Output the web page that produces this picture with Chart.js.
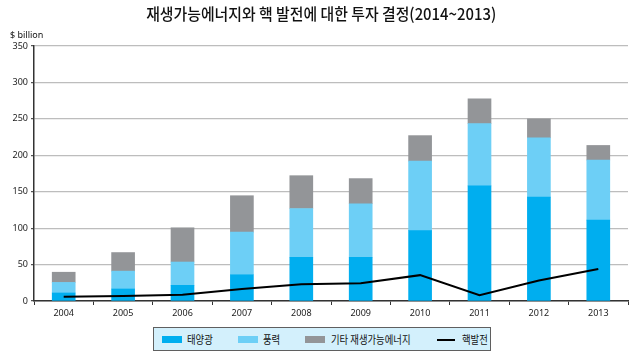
<!DOCTYPE html>
<html><head><meta charset="utf-8">
<script src="https://cdn.jsdelivr.net/npm/chart.js@4.4.1/dist/chart.umd.min.js"></script>
<style>
body{margin:0;width:640px;height:360px;overflow:hidden;background:#fff;font-family:"Noto Sans CJK KR",sans-serif;}
#wrap{position:relative;width:640px;height:360px;}
canvas{position:absolute;left:0;top:0;}
.t{position:absolute;white-space:nowrap;color:#111;}
#title{left:0;top:3px;width:642px;text-align:center;font-size:16px;line-height:20px;font-weight:500;}
#title span{display:inline-block;transform:scaleX(0.93);transform-origin:center;}
#unit{left:10px;top:28px;font-size:9px;font-family:"Noto Sans",sans-serif;}
#legend{position:absolute;left:153px;top:327px;width:336px;height:22px;background:#d3f0fc;border:1px solid #5f5f5f;}
.sw{position:absolute;top:8px;width:20px;height:7px;}
.ln{position:absolute;top:11px;width:18px;height:2px;background:#000;}
.lt{position:absolute;top:3px;font-size:11px;line-height:16px;transform:scaleX(0.85);transform-origin:left center;white-space:nowrap;color:#111;}
</style></head><body>
<div id="wrap">
<canvas id="c" width="640" height="360"></canvas>
<div class="t" id="title"><span>재생가능에너지와 핵 발전에 대한 투자 결정(2014~2013)</span></div>
<div class="t" id="unit">$ billion</div>
<div id="legend"></div>
</div>
<script>
const years = ['2004','2005','2006','2007','2008','2009','2010','2011','2012','2013'];
const solar = [11, 16.5, 21.5, 36, 60, 60, 96.5, 158, 142.5, 111];
const wind = [14.5, 24.5, 32, 58.5, 67, 73.5, 95.5, 85.5, 81.5, 82.5];
const otherRenew = [14, 25.5, 47, 50, 45, 34.5, 35, 34, 26, 20];
const nuclear = [6, 7, 8.5, 16.5, 23, 24.5, 35.5, 8, 28, 44];
const seriesNames = ['태양광', '풍력', '기타 재생가능에너지', '핵발전'];
const colors = ['#00aeef', '#6dcff6', '#939598', '#000000'];

const barCommon = {type:'bar', stack:'r', order:1, barThickness:23, borderWidth:0};
new Chart(document.getElementById('c'), {
  data: {
    labels: years,
    datasets: [
      Object.assign({label:seriesNames[0], data:solar, backgroundColor:colors[0]}, barCommon),
      Object.assign({label:seriesNames[1], data:wind, backgroundColor:colors[1]}, barCommon),
      Object.assign({label:seriesNames[2], data:otherRenew, backgroundColor:colors[2]}, barCommon),
      {type:'line', label:seriesNames[3], data:nuclear, stack:'n', order:0, borderColor:colors[3], borderWidth:2, pointRadius:0, tension:0, fill:false}
    ]
  },
  options: {
    responsive:false, animation:false,
    layout:{padding:{left:0, top:46, right:12, bottom:0}},
    plugins:{legend:{display:false}, tooltip:{enabled:false}, title:{display:false}},
    scales:{
      x:{stacked:true,
        ticks:{color:'#222', font:{size:9, family:'Noto Sans'}, padding:3, maxRotation:0},
        grid:{drawOnChartArea:false, tickLength:4, tickColor:'#333', offset:true, lineWidth:1},
        border:{color:'#333', width:1.5},
        afterFit(s){s.height=59;}},
      y:{stacked:true, min:0, max:350,
        ticks:{stepSize:50, color:'#222', font:{size:9, family:'Noto Sans'}, padding:3},
        grid:{color:'#bdbdbd', lineWidth:1.2, tickLength:3, tickColor:'#555'},
        border:{color:'#333', width:1.5},
        afterFit(s){s.width=34;}}
    }
  }
});

// HTML legend
const lg = document.getElementById('legend');
const items = [
  {sw:8, tx:33, kind:'box', c:colors[0], n:seriesNames[0]},
  {sw:84, tx:109, kind:'box', c:colors[1], n:seriesNames[1]},
  {sw:151, tx:177, kind:'box', c:colors[2], n:seriesNames[2]},
  {sw:283, tx:308, kind:'line', c:colors[3], n:seriesNames[3]}
];
items.forEach(it=>{
  const s=document.createElement('div');
  s.className = it.kind==='box' ? 'sw' : 'ln';
  s.style.left = it.sw+'px';
  if(it.kind==='box') s.style.background = it.c;
  lg.appendChild(s);
  const t=document.createElement('div');
  t.className='lt'; t.style.left=it.tx+'px'; t.textContent=it.n;
  lg.appendChild(t);
});
</script>
</body></html>
